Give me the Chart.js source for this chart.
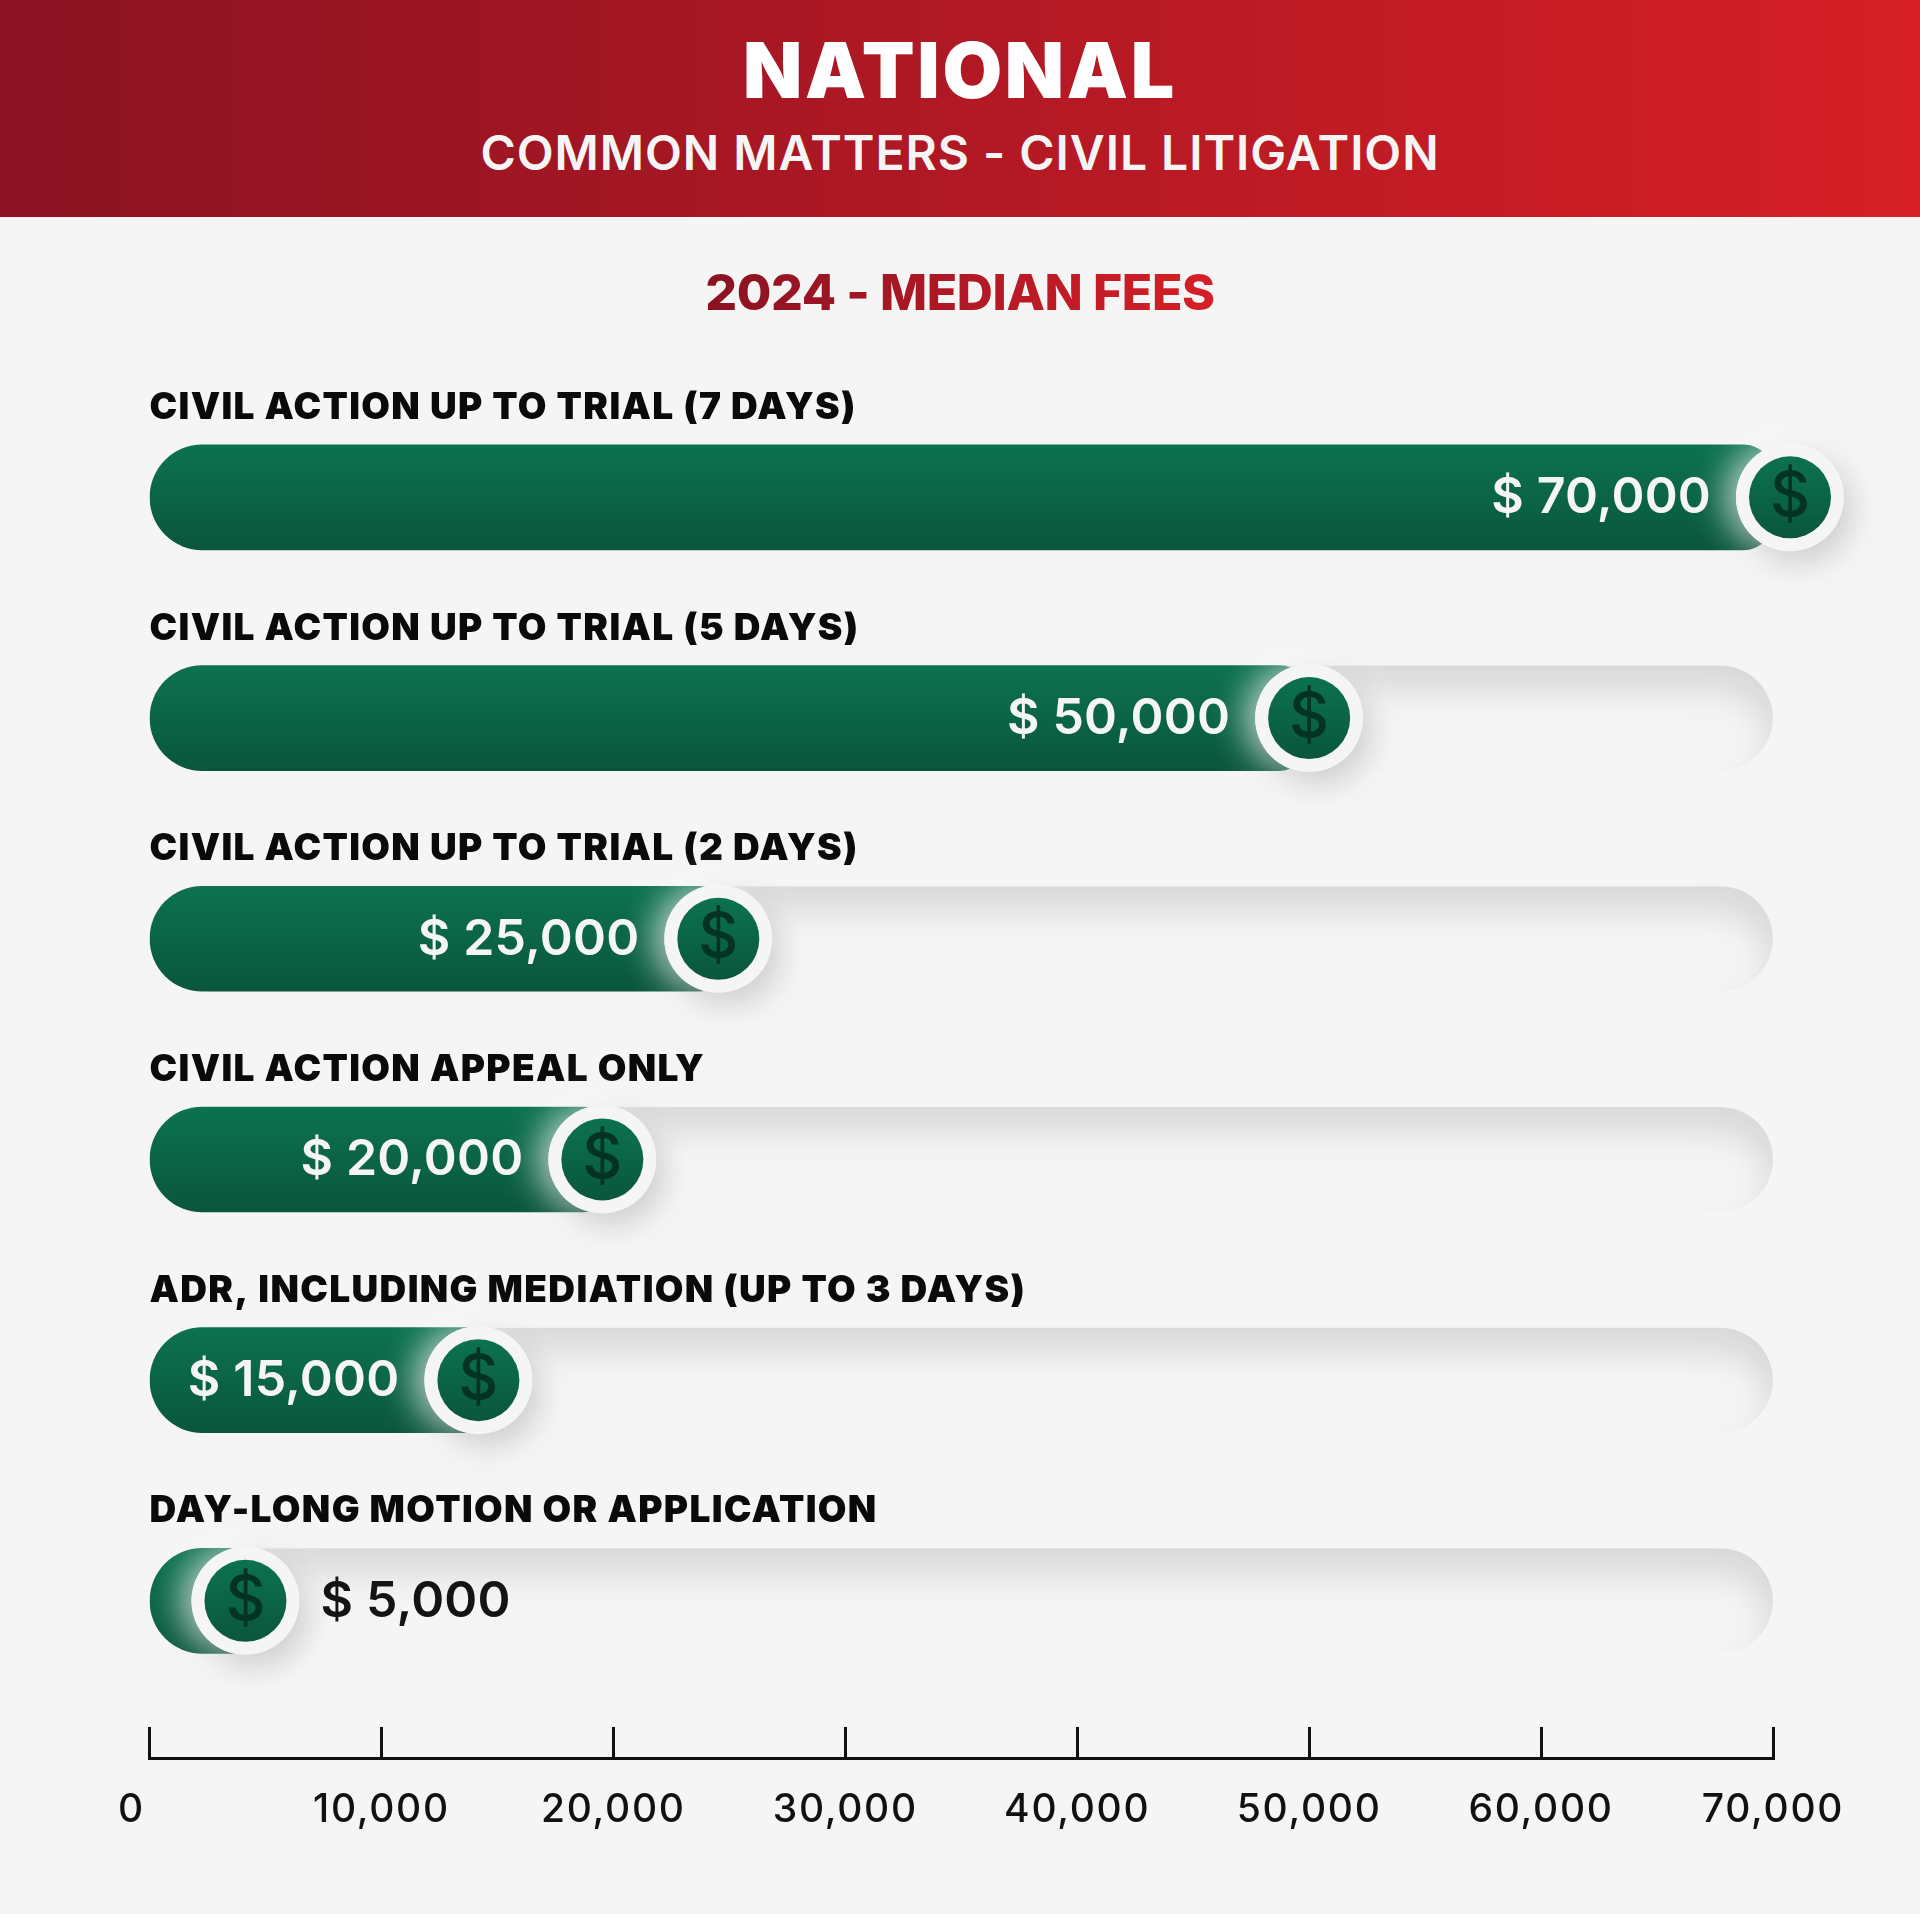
<!DOCTYPE html>
<html lang="en">
<head>
<meta charset="utf-8">
<title>National - Common Matters - Civil Litigation</title>
<script src="https://cdn.jsdelivr.net/npm/chart.js@4"></script>
<style>
    html, body { margin: 0; padding: 0; background: #f5f5f5; }
    #page { position: relative; width: 1920px; height: 1914px; overflow: hidden; font-family: Inter, sans-serif; }
    #band { position: absolute; left: 0; top: 0; width: 1920px; height: 217px; background: linear-gradient(90deg, #8a1222, #d71f26); }
    #page div.line { position: absolute; left: 0; width: 1920px; text-align: center; white-space: nowrap; }
    #title { top: 24px; font-size: 77px; line-height: 93px; font-weight: 900; color: #fff; letter-spacing: 2.7px; }
    #subtitle { top: 124px; font-size: 48px; line-height: 58px; font-weight: 600; color: #f5f5f5; letter-spacing: 0.95px; }
    #heading { top: 262px; font-size: 50px; line-height: 60px; font-weight: 800; letter-spacing: -0.4px; }
    #heading span { background: linear-gradient(90deg, #8a1222, #d71f26); -webkit-background-clip: text; background-clip: text; color: transparent; }
    #feesChart { position: absolute; left: 0; top: 0; }
</style>
</head>
<body>
<div id="page">
    <canvas id="feesChart" width="1920" height="1914"></canvas>
    <div id="band"></div>
    <div class="line" id="title">NATIONAL</div>
    <div class="line" id="subtitle">COMMON MATTERS - CIVIL LITIGATION</div>
    <div class="line" id="heading"><span>2024 - MEDIAN FEES</span></div>
</div>
<script>
const categories = [
    'CIVIL ACTION UP TO TRIAL (7 DAYS)',
    'CIVIL ACTION UP TO TRIAL (5 DAYS)',
    'CIVIL ACTION UP TO TRIAL (2 DAYS)',
    'CIVIL ACTION APPEAL ONLY',
    'ADR, INCLUDING MEDIATION (UP TO 3 DAYS)',
    'DAY-LONG MOTION OR APPLICATION'
];
const fees = [70000, 50000, 25000, 20000, 15000, 5000];
const axisMax = 70000;
const axisStep = 10000;

// the coins in the original are not exactly on the value, small px correction
const coinNudge = [17, 0, -11, -11, -19, -20];

const BAR_H = 105;

function money(v) { return v.toLocaleString('en-US'); }

function roundedPath(ctx, x, y, w, h, r) {
    ctx.beginPath();
    ctx.roundRect(x, y, w, h, r);
}

function barGradient(ctx, y) {
    const g = ctx.createLinearGradient(0, y - BAR_H / 2, 0, y + BAR_H / 2);
    g.addColorStop(0, '#0c7250');
    g.addColorStop(1, '#0a563d');
    return g;
}

// sunken track behind each bar
const trackPlugin = {
    id: 'tracks',
    beforeDraw(chart) {
        // wider tick labels, the scale picks this up when it draws them
        chart.ctx.letterSpacing = '1.7px';
    },
    beforeDatasetsDraw(chart) {
        const ctx = chart.ctx, x = chart.scales.x, y = chart.scales.y;
        const left = x.getPixelForValue(0), right = x.getPixelForValue(axisMax);
        categories.forEach(function (c, i) {
            const cy = y.getPixelForValue(i);
            const top = cy - BAR_H / 2;
            ctx.save();
            roundedPath(ctx, left, top, right - left, BAR_H, BAR_H / 2);
            ctx.clip();
            ctx.shadowColor = 'rgba(0,0,0,0.12)';
            ctx.shadowBlur = 36;
            ctx.shadowOffsetX = -3;
            ctx.shadowOffsetY = 24;
            ctx.fillStyle = '#f5f5f5';
            ctx.beginPath();
            ctx.rect(left - 200, top - 200, right - left + 400, BAR_H + 400);
            ctx.roundRect(left, top, right - left, BAR_H, BAR_H / 2);
            ctx.fill('evenodd');
            ctx.restore();
        });
    }
};

// category names, value labels and the coin at the end of each bar
const rowPlugin = {
    id: 'rows',
    afterDatasetsDraw(chart) {
        const ctx = chart.ctx, x = chart.scales.x, y = chart.scales.y;
        categories.forEach(function (c, i) {
            const cy = y.getPixelForValue(i);
            const cx = x.getPixelForValue(fees[i]) + coinNudge[i];

            ctx.save();
            ctx.font = '900 37px Inter';
            ctx.letterSpacing = '1.35px';
            ctx.fillStyle = '#0a0a0a';
            ctx.textBaseline = 'middle';
            ctx.textAlign = 'left';
            ctx.fillText(c, x.getPixelForValue(0), cy - BAR_H / 2 - 37);

            // value label, inside the bar unless it does not fit
            ctx.font = '600 50px Inter';
            ctx.letterSpacing = '0.2px';
            const label = '$ ' + money(fees[i]);
            if (cx - 79 - ctx.measureText(label).width > x.getPixelForValue(0) + 20) {
                ctx.fillStyle = '#f5f5f5';
                ctx.textAlign = 'right';
                ctx.fillText(label, cx - 79, cy + 1);
            } else {
                ctx.fillStyle = '#141414';
                ctx.fillText(label, cx + 75, cy + 1);
            }
            ctx.restore();

            // white glow to the upper left of the coin
            ctx.save();
            ctx.shadowColor = 'rgba(255,255,255,0.75)';
            ctx.shadowBlur = 34;
            ctx.shadowOffsetX = -10;
            ctx.fillStyle = '#f5f5f5';
            ctx.beginPath();
            ctx.arc(cx, cy, 54, 0, Math.PI * 2);
            ctx.fill();
            ctx.restore();

            // coin rim with its drop shadow
            ctx.save();
            ctx.shadowColor = 'rgba(0,0,0,0.17)';
            ctx.shadowBlur = 30;
            ctx.shadowOffsetX = 8;
            ctx.shadowOffsetY = 12;
            ctx.fillStyle = '#f5f5f5';
            ctx.beginPath();
            ctx.arc(cx, cy, 54, 0, Math.PI * 2);
            ctx.fill();
            ctx.restore();

            ctx.save();
            const g = ctx.createLinearGradient(0, cy - 41, 0, cy + 41);
            g.addColorStop(0, '#0c7250');
            g.addColorStop(1, '#0a563d');
            ctx.fillStyle = g;
            ctx.beginPath();
            ctx.arc(cx, cy, 41, 0, Math.PI * 2);
            ctx.fill();
            ctx.fillStyle = '#043323';
            ctx.font = '500 62px Inter';
            ctx.letterSpacing = '0px';
            ctx.textAlign = 'center';
            ctx.textBaseline = 'middle';
            ctx.fillText('$', cx, cy);
            ctx.restore();
        });
    }
};

new Chart(document.getElementById('feesChart'), {
    type: 'bar',
    data: {
        datasets: [{
            label: 'Median fee',
            data: fees.map(function (v, i) { return { x: v, y: i }; }),
            barThickness: BAR_H,
            borderSkipped: false,
            borderRadius: { topLeft: BAR_H / 2, bottomLeft: BAR_H / 2, topRight: 30, bottomRight: 30 },
            backgroundColor: function (c) {
                if (!c.chart.chartArea || c.dataIndex === undefined) return '#0b6648';
                return barGradient(c.chart.ctx, c.chart.scales.y.getPixelForValue(c.dataIndex));
            }
        }]
    },
    options: {
        indexAxis: 'y',
        responsive: false,
        animation: false,
        layout: { padding: { left: 149.5, right: 147, top: 387, bottom: 76 } },
        plugins: { legend: { display: false }, tooltip: { enabled: false } },
        scales: {
            y: { type: 'linear', reverse: true, offset: false, min: -0.5, max: 5.712, display: false },
            x: {
                type: 'linear',
                min: 0,
                max: axisMax,
                afterFit: function (s) { s.height = 80; },
                afterBuildTicks: function (s) {
                    const list = [];
                    for (let v = 0; v <= axisMax; v += axisStep) list.push({ value: v });
                    s.ticks = list;
                },
                grid: { drawOnChartArea: false, tickLength: -31, tickWidth: 3, tickColor: '#111' },
                border: { color: '#111', width: 3 },
                ticks: {
                    autoSkip: false,
                    maxRotation: 0,
                    padding: 60,
                    color: '#111',
                    font: { family: 'Inter', size: 39, weight: '500' },
                    // the zero sits left of its tick in the original
                    callback: function (v) { return v === 0 ? '0\u00a0\u00a0\u00a0' : money(v); }
                }
            }
        }
    },
    plugins: [trackPlugin, rowPlugin]
});
</script>
</body>
</html>
